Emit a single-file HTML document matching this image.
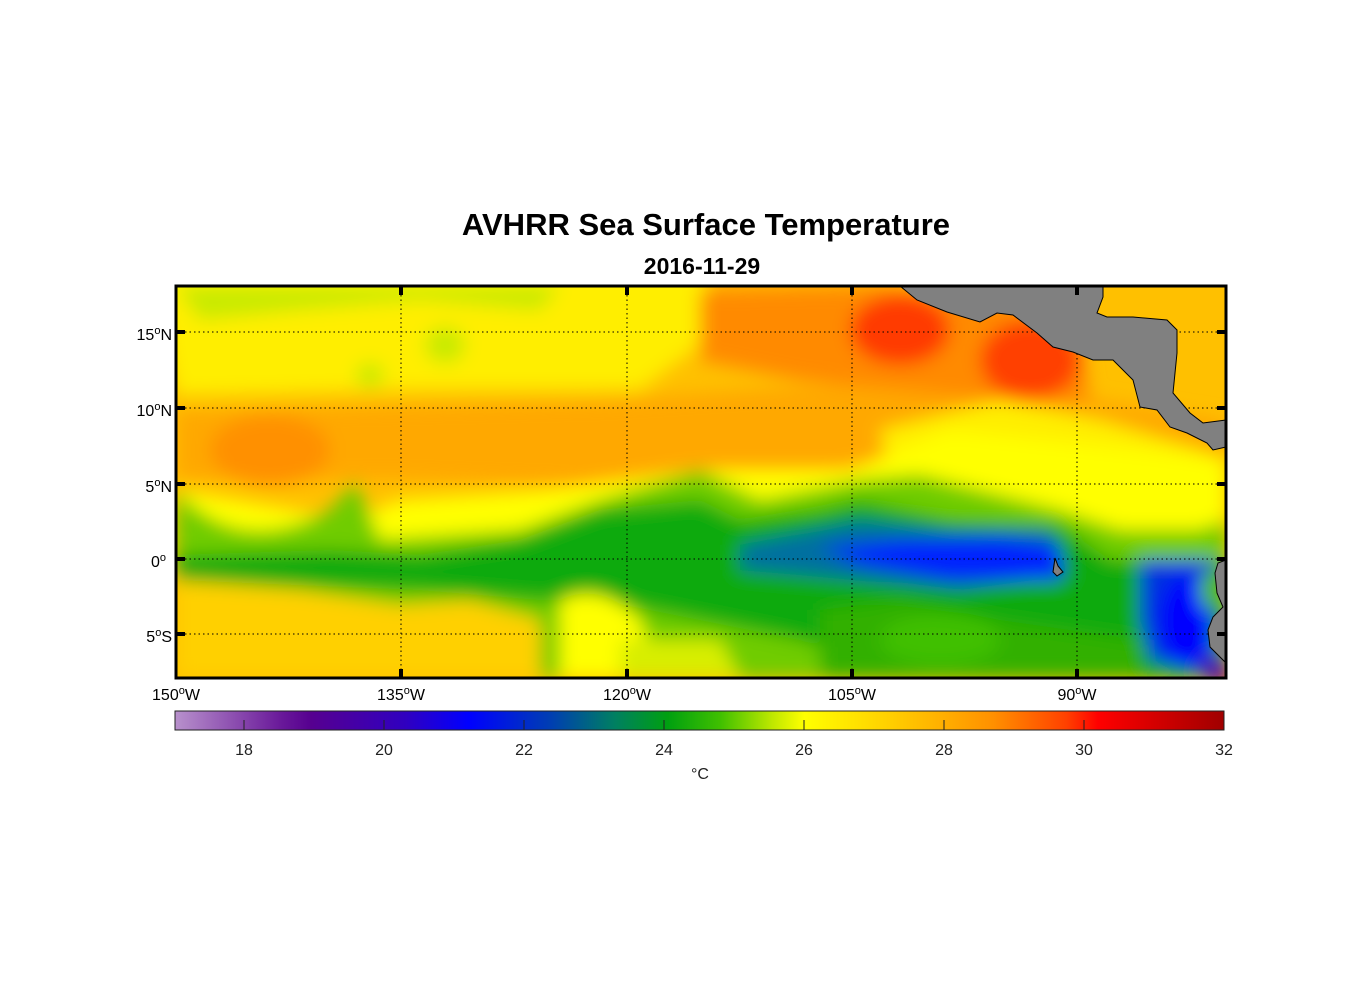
<!DOCTYPE html>
<html><head><meta charset="utf-8"><style>
html,body{margin:0;padding:0;background:#fff;}
svg{display:block;}
text{font-family:"Liberation Sans",Arial,sans-serif;}
</style></head><body>
<svg width="1356" height="1000" viewBox="0 0 1356 1000" xmlns="http://www.w3.org/2000/svg">
<defs>
<clipPath id="c"><rect x="176" y="286" width="1050" height="392"/></clipPath>
<filter id="b" x="-20%" y="-20%" width="140%" height="140%"><feGaussianBlur stdDeviation="9"/></filter>
<linearGradient id="cb" x1="0" x2="1" y1="0" y2="0">
<stop offset="0" stop-color="#b891cc"/>
<stop offset="0.1" stop-color="#6a1a9a"/>
<stop offset="0.13" stop-color="#560090"/>
<stop offset="0.22" stop-color="#3000c0"/>
<stop offset="0.28" stop-color="#0000ff"/>
<stop offset="0.36" stop-color="#0040b0"/>
<stop offset="0.42" stop-color="#008060"/>
<stop offset="0.47" stop-color="#00a010"/>
<stop offset="0.52" stop-color="#40c000"/>
<stop offset="0.57" stop-color="#c0e800"/>
<stop offset="0.6" stop-color="#ffff00"/>
<stop offset="0.68" stop-color="#ffd000"/>
<stop offset="0.78" stop-color="#ff9000"/>
<stop offset="0.85" stop-color="#ff4000"/>
<stop offset="0.88" stop-color="#ff0000"/>
<stop offset="1" stop-color="#a00000"/>
</linearGradient>
</defs>
<text x="706" y="235" text-anchor="middle" font-size="31" font-weight="bold">AVHRR Sea Surface Temperature</text>
<text x="702" y="274" text-anchor="middle" font-size="23" font-weight="bold">2016-11-29</text>
<g clip-path="url(#c)">
<rect x="150" y="260" width="1100" height="440" fill="#ffc000"/>
<g filter="url(#b)">
<path d="M150 260 H700 L720 330 L640 390 L420 390 L176 395 Z" fill="#ffee00"/>
<path d="M176 286 H560 L540 310 L420 300 L300 310 L200 320 Z" fill="#c8ea00"/>
<ellipse cx="445" cy="345" rx="20" ry="18" fill="#c8ea00"/>
<ellipse cx="370" cy="375" rx="14" ry="12" fill="#c8ea00"/>
<path d="M176 410 L600 400 L900 380 L1100 400 L1226 420 L1226 460 L900 460 L700 490 L400 480 L176 480 Z" fill="#ffa800"/>
<ellipse cx="270" cy="450" rx="60" ry="35" fill="#ff9000"/>
<path d="M700 290 L880 286 L1000 300 L1080 330 L1090 400 L1000 400 L900 390 L800 380 L700 360 Z" fill="#ff8a00"/>
<ellipse cx="900" cy="330" rx="50" ry="35" fill="#ff3a00"/>
<ellipse cx="1030" cy="360" rx="50" ry="40" fill="#ff4000"/>
<path d="M880 430 L1000 400 L1100 420 L1200 450 L1226 460 L1226 540 L900 520 Z" fill="#ffee00"/>
<path d="M176 490 L350 520 L400 500 L550 490 L700 470 L850 470 L950 430 L1140 450 L1226 460 L1226 560 L900 540 L176 560 Z" fill="#ffff00"/>
<path d="M176 490 Q240 560 330 510 L355 480 L380 540 L520 530 L600 500 L700 470 L760 500 L860 480 L920 475 L1060 510 L1120 530 L1200 530 L1226 520 L1226 678 L176 678 Z" fill="#70cc00"/>
<path d="M176 555 L330 550 L420 555 L520 540 L600 510 L700 500 L740 520 L820 510 L860 500 L950 520 L1060 525 L1110 560 L1226 560 L1226 678 L900 678 L800 640 L700 620 L600 600 L540 600 L420 590 L176 580 Z" fill="#0aaa10"/>
<path d="M176 580 L300 590 L400 605 L470 600 L540 620 L540 678 L176 678 Z" fill="#ffd000"/>
<path d="M560 600 Q600 580 640 620 L660 678 L560 678 Z" fill="#ffff00"/>
<path d="M620 640 L720 640 L740 678 L620 678 Z" fill="#d8ee00"/>
<path d="M740 545 L860 520 L950 530 L1050 530 L1070 575 L960 590 L800 575 L740 570 Z" fill="#0070a0"/>
<path d="M820 548 L900 540 L1000 538 L1060 545 L1060 580 L950 580 L860 565 Z" fill="#0020ff"/>
<path d="M1140 560 L1215 560 L1215 678 L1150 660 L1140 620 Z" fill="#0030e0"/>
<ellipse cx="1185" cy="620" rx="25" ry="45" fill="#0000ff"/>
<ellipse cx="1215" cy="670" rx="15" ry="15" fill="#5000b0"/>
<path d="M820 610 L900 600 L1000 620 L1140 640 L1140 678 L820 678 Z" fill="#30b000"/>
<ellipse cx="940" cy="640" rx="60" ry="25" fill="#40c000"/>
<ellipse cx="1210" cy="590" rx="10" ry="20" fill="#50c000"/>
</g>
<g stroke="#000" stroke-width="1" stroke-dasharray="1.5,3">
<line x1="401" y1="286" x2="401" y2="678"/><line x1="627" y1="286" x2="627" y2="678"/>
<line x1="852" y1="286" x2="852" y2="678"/><line x1="1077" y1="286" x2="1077" y2="678"/>
<line x1="176" y1="332" x2="1226" y2="332"/><line x1="176" y1="408" x2="1226" y2="408"/>
<line x1="176" y1="484" x2="1226" y2="484"/><line x1="176" y1="559" x2="1226" y2="559"/>
<line x1="176" y1="634" x2="1226" y2="634"/>
</g>
<g fill="#808080" stroke="#000" stroke-width="1">
<path d="M900 286 L917 300 L947 312 L980 322 L997 313 L1013 315 L1037 333 L1053 347 L1073 352 L1093 360 L1113 360 L1133 380 L1140 407 L1157 410 L1170 427 L1187 433 L1207 443 L1213 450 L1226 447 L1226 420 L1203 423 L1190 413 L1173 393 L1177 353 L1177 330 L1167 320 L1133 317 L1107 317 L1097 313 L1103 297 L1103 286 Z"/>
<path d="M1226 560 L1218 563 L1215 573 L1217 593 L1223 607 L1213 617 L1208 630 L1210 647 L1226 663 Z"/>
<path d="M1055 558 L1058 566 L1063 572 L1057 576 L1053 572 Z"/>
</g>
</g>
<rect x="176" y="286" width="1050" height="392" fill="none" stroke="#000" stroke-width="3"/>
<g stroke="#000" stroke-width="4">
<line x1="401" y1="286" x2="401" y2="295"/><line x1="627" y1="286" x2="627" y2="295"/><line x1="852" y1="286" x2="852" y2="295"/><line x1="1077" y1="286" x2="1077" y2="295"/>
<line x1="401" y1="678" x2="401" y2="669"/><line x1="627" y1="678" x2="627" y2="669"/><line x1="852" y1="678" x2="852" y2="669"/><line x1="1077" y1="678" x2="1077" y2="669"/>
<line x1="176" y1="332" x2="185" y2="332"/><line x1="176" y1="408" x2="185" y2="408"/><line x1="176" y1="484" x2="185" y2="484"/><line x1="176" y1="559" x2="185" y2="559"/><line x1="176" y1="634" x2="185" y2="634"/>
<line x1="1226" y1="332" x2="1217" y2="332"/><line x1="1226" y1="408" x2="1217" y2="408"/><line x1="1226" y1="484" x2="1217" y2="484"/><line x1="1226" y1="559" x2="1217" y2="559"/><line x1="1226" y1="634" x2="1217" y2="634"/>
</g>
<g font-size="16" text-anchor="end">
<text x="172" y="340">15<tspan font-size="11" dy="-6">o</tspan><tspan dy="6">N</tspan></text>
<text x="172" y="416">10<tspan font-size="11" dy="-6">o</tspan><tspan dy="6">N</tspan></text>
<text x="172" y="492">5<tspan font-size="11" dy="-6">o</tspan><tspan dy="6">N</tspan></text>
<text x="166" y="567">0<tspan font-size="11" dy="-6">o</tspan></text>
<text x="172" y="642">5<tspan font-size="11" dy="-6">o</tspan><tspan dy="6">S</tspan></text>
</g>
<g font-size="16" text-anchor="middle">
<text x="176" y="700">150<tspan font-size="11" dy="-6">o</tspan><tspan dy="6">W</tspan></text>
<text x="401" y="700">135<tspan font-size="11" dy="-6">o</tspan><tspan dy="6">W</tspan></text>
<text x="627" y="700">120<tspan font-size="11" dy="-6">o</tspan><tspan dy="6">W</tspan></text>
<text x="852" y="700">105<tspan font-size="11" dy="-6">o</tspan><tspan dy="6">W</tspan></text>
<text x="1077" y="700">90<tspan font-size="11" dy="-6">o</tspan><tspan dy="6">W</tspan></text>
</g>
<rect x="175" y="711" width="1049" height="19" fill="url(#cb)" stroke="#222" stroke-width="1"/>
<g stroke="#222" stroke-width="1">
<line x1="244" y1="730" x2="244" y2="720"/><line x1="384" y1="730" x2="384" y2="720"/><line x1="524" y1="730" x2="524" y2="720"/><line x1="664" y1="730" x2="664" y2="720"/><line x1="804" y1="730" x2="804" y2="720"/><line x1="944" y1="730" x2="944" y2="720"/><line x1="1084" y1="730" x2="1084" y2="720"/>
</g>
<g font-size="16" text-anchor="middle" fill="#222">
<text x="244" y="755">18</text><text x="384" y="755">20</text><text x="524" y="755">22</text><text x="664" y="755">24</text><text x="804" y="755">26</text><text x="944" y="755">28</text><text x="1084" y="755">30</text><text x="1224" y="755">32</text>
<text x="700" y="779">°C</text>
</g>
</svg>
</body></html>
